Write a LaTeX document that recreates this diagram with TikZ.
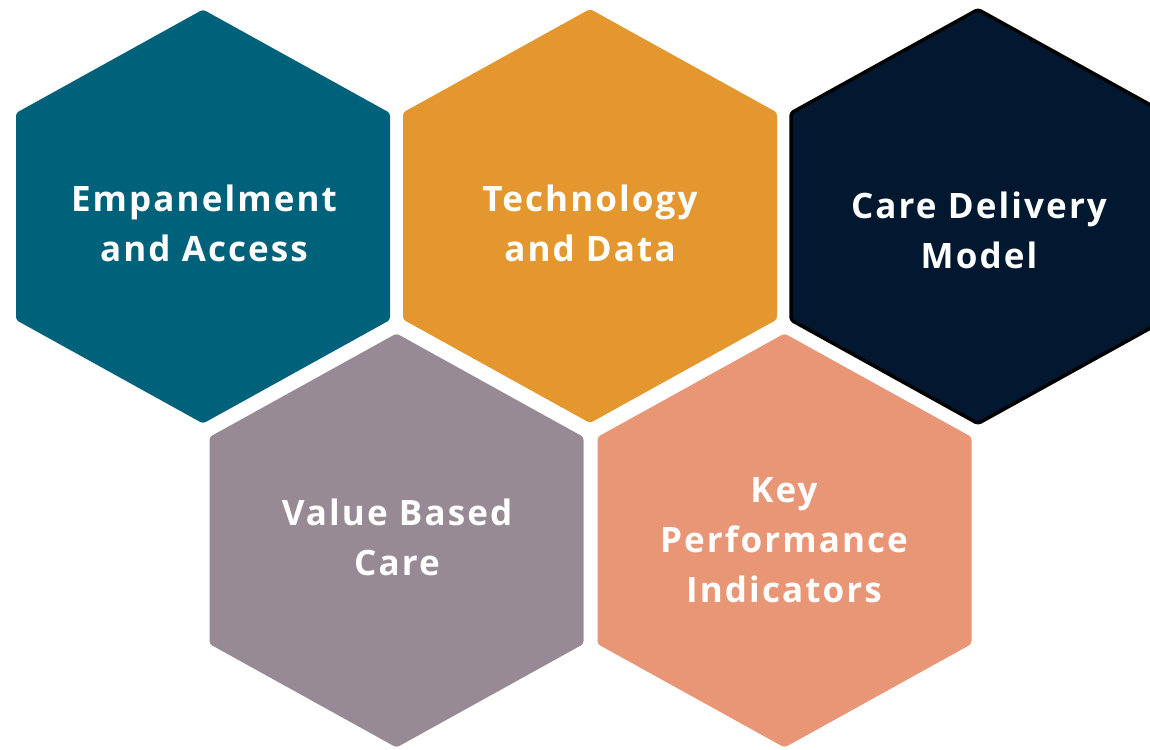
\documentclass[tikz,border=0pt]{standalone}
\usepackage{fontspec}
\setmainfont{Open Sans}[LetterSpace=6]
\definecolor{cteal}{HTML}{00627A}
\definecolor{corange}{HTML}{E5972F}
\definecolor{cnavy}{HTML}{011830}
\definecolor{cmauve}{HTML}{988A94}
\definecolor{csalmon}{HTML}{E99677}
\tikzset{
  hexlabel/.style={text=white, font=\fontsize{35}{50}\selectfont\bfseries, align=center, inner sep=0pt},
  hexfill/.style={rounded corners=3pt}
}
% hexagon path: center (#1,#2)
\newcommand{\hexpath}[2]{(#1,#2+207) -- (#1+187,#2+103.5) -- (#1+187,#2-103.5) -- (#1,#2-207) -- (#1-187,#2-103.5) -- (#1-187,#2+103.5) -- cycle}
\begin{document}
\begin{tikzpicture}[x=1pt,y=-1pt]
\useasboundingbox (0,0) rectangle (1150,749);
\fill[cteal, hexfill] \hexpath{203}{216.5};
\fill[corange, hexfill] \hexpath{590}{216};
\filldraw[fill=cnavy, draw=black, line width=3.5pt, hexfill] \hexpath{978}{216.5};
\fill[cmauve, hexfill] \hexpath{396.5}{540.5};
\fill[csalmon, hexfill] \hexpath{784.5}{540.5};
\node[hexlabel] (ea) at (204,223) {Empanelment\\and Access};
\node[hexlabel] (td) at (590,223) {Technology\\and Data};
\node[hexlabel] (cd) at (979,230) {Care Delivery\\Model};
\node[hexlabel] (vb) at (397,537) {Value Based\\Care};
\node[hexlabel] (kp) at (784,540) {Key\\Performance\\Indicators};
\end{tikzpicture}
\end{document}
